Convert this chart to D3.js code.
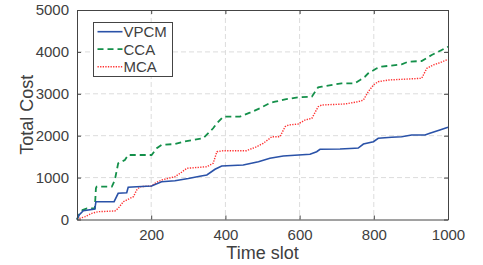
<!DOCTYPE html>
<html><head><meta charset="utf-8">
<script src="https://cdn.jsdelivr.net/npm/d3@7"></script>
<style>body{margin:0;background:#fff}svg{display:block}</style>
</head><body>
<svg id="c" width="483" height="265"></svg>
<script>
const xTicks = [200, 400, 600, 800, 1000];
const yTicks = [0, 1000, 2000, 3000, 4000, 5000];
const seriesNames = ["VPCM", "CCA", "MCA"];

const vpcmX = [0,5,17,48,51,100,111,134,138,161,201,228,264,300,331,350,372,390,448,489,520,556,628,646,655,709,749,758,772,799,812,848,875,902,938,951,978,1000];
const vpcmY = [0,100,210,250,425,425,625,640,770,783,800,900,925,980,1034,1062,1198,1277,1300,1380,1460,1515,1556,1618,1675,1683,1700,1705,1802,1857,1938,1962,1976,2017,2017,2057,2136,2200];

const ccaX = [0,5,15,27,48,51,53,94,102,111,129,138,201,215,228,264,287,340,367,377,394,439,466,493,520,534,561,596,633,650,660,713,749,763,776,785,808,821,875,893,929,956,983,1000];
const ccaY = [0,107,227,267,267,745,783,783,943,1341,1420,1539,1539,1700,1778,1802,1857,1938,2177,2296,2453,2453,2549,2654,2780,2811,2869,2916,2931,3155,3170,3251,3251,3329,3408,3489,3609,3647,3704,3766,3783,3926,4045,4124];

const mcaX = [0,8,22,40,57,102,111,125,143,152,161,170,201,210,228,264,278,296,350,367,377,394,457,484,502,520,525,547,561,570,596,615,633,650,660,722,758,772,785,799,812,839,929,943,960,978,1000];
const mcaY = [0,30,67,148,186,203,267,425,506,544,704,783,800,864,943,1022,1103,1222,1260,1341,1618,1642,1642,1737,1818,1938,1976,1976,2215,2255,2279,2375,2415,2692,2733,2757,2811,2852,3050,3210,3289,3329,3370,3609,3687,3742,3823];

const svg = d3.select("#c");
const m = {l:77, t:10, r:35, b:45.5};
const W = 483 - m.l - m.r, H = 265 - m.t - m.b;
const x = d3.scaleLinear().domain([0,1000]).range([0, W]);
const y = d3.scaleLinear().domain([0,5000]).range([H, 0]);
const g = svg.append("g").attr("transform", `translate(${m.l},${m.t})`);
const txt = "#404040", font = "Liberation Sans, Arial, sans-serif";

// grid
g.append("g").selectAll("line").data(xTicks.filter(d=>d<1000)).join("line")
  .attr("x1", d=>x(d)).attr("x2", d=>x(d)).attr("y1", 0).attr("y2", H)
  .attr("stroke", "#dcdcdc").attr("stroke-dasharray", "5,3");
g.append("g").selectAll("line").data(yTicks.filter(d=>d>0 && d<5000)).join("line")
  .attr("y1", d=>y(d)).attr("y2", d=>y(d)).attr("x1", 0).attr("x2", W)
  .attr("stroke", "#dcdcdc").attr("stroke-dasharray", "5,3");

// series
const series = [
  {name: seriesNames[0], xs: vpcmX, ys: vpcmY, color: "#2a52a8", dash: null, w: 1.6},
  {name: seriesNames[1], xs: ccaX, ys: ccaY, color: "#14904a", dash: "6,4", w: 1.8},
  {name: seriesNames[2], xs: mcaX, ys: mcaY, color: "#ff3030", dash: "1.3,1.3", w: 1.4}
];
const line = d3.line().x(d=>x(d[0])).y(d=>y(d[1]));
series.slice().reverse().forEach(s => {
  g.append("path").datum(d3.zip(s.xs, s.ys)).attr("d", line)
    .attr("fill", "none").attr("stroke", s.color).attr("stroke-width", s.w)
    .attr("stroke-dasharray", s.dash);
});

// axes
const fmt = d3.format("d");
const ax = d3.axisBottom(x).tickValues(xTicks).tickFormat(fmt).tickSize(-4).tickPadding(10).tickSizeOuter(0);
const ay = d3.axisLeft(y).tickValues(yTicks).tickFormat(fmt).tickSize(-4).tickPadding(8).tickSizeOuter(0);
const gx = g.append("g").attr("transform", `translate(0,${H})`).call(ax);
const gy = g.append("g").call(ay);
const gx2 = g.append("g").call(d3.axisTop(x).tickValues(xTicks).tickSize(-4).tickFormat("").tickSizeOuter(0));
const gy2 = g.append("g").attr("transform", `translate(${W},0)`).call(d3.axisRight(y).tickValues(yTicks).tickSize(-4).tickFormat("").tickSizeOuter(0));
[gx, gy, gx2, gy2].forEach(a => {
  a.select(".domain").attr("stroke", "#444").attr("stroke-width", 1);
  a.selectAll(".tick line").attr("stroke", "#444");
  a.selectAll("text").attr("fill", txt).attr("font-size", 15).attr("font-family", font);
});

// axis labels
svg.append("text").attr("x", m.l + W/2).attr("y", 259).attr("text-anchor", "middle")
  .attr("font-family", font).attr("font-size", 18).attr("fill", txt).text("Time slot");
svg.append("text").attr("transform", `translate(33,${m.t + H/2}) rotate(-90)`).attr("text-anchor", "middle")
  .attr("font-family", font).attr("font-size", 18).attr("fill", txt).text("Total Cost");

// legend
const lg = svg.append("g");
lg.append("rect").attr("x", 93.5).attr("y", 22.5).attr("width", 79).attr("height", 54)
  .attr("fill", "#fff").attr("stroke", "#444").attr("stroke-width", 1);
series.forEach((s, i) => {
  const cy = 31.7 + i*17.5;
  lg.append("line").attr("x1", 97.5).attr("x2", 122.5).attr("y1", cy).attr("y2", cy)
    .attr("stroke", s.color).attr("stroke-width", s.w).attr("stroke-dasharray", s.dash);
  lg.append("text").attr("x", 123.5).attr("y", cy).attr("dy", "0.36em")
    .attr("font-family", font).attr("font-size", 15).attr("fill", txt).text(s.name);
});
</script>
</body></html>
